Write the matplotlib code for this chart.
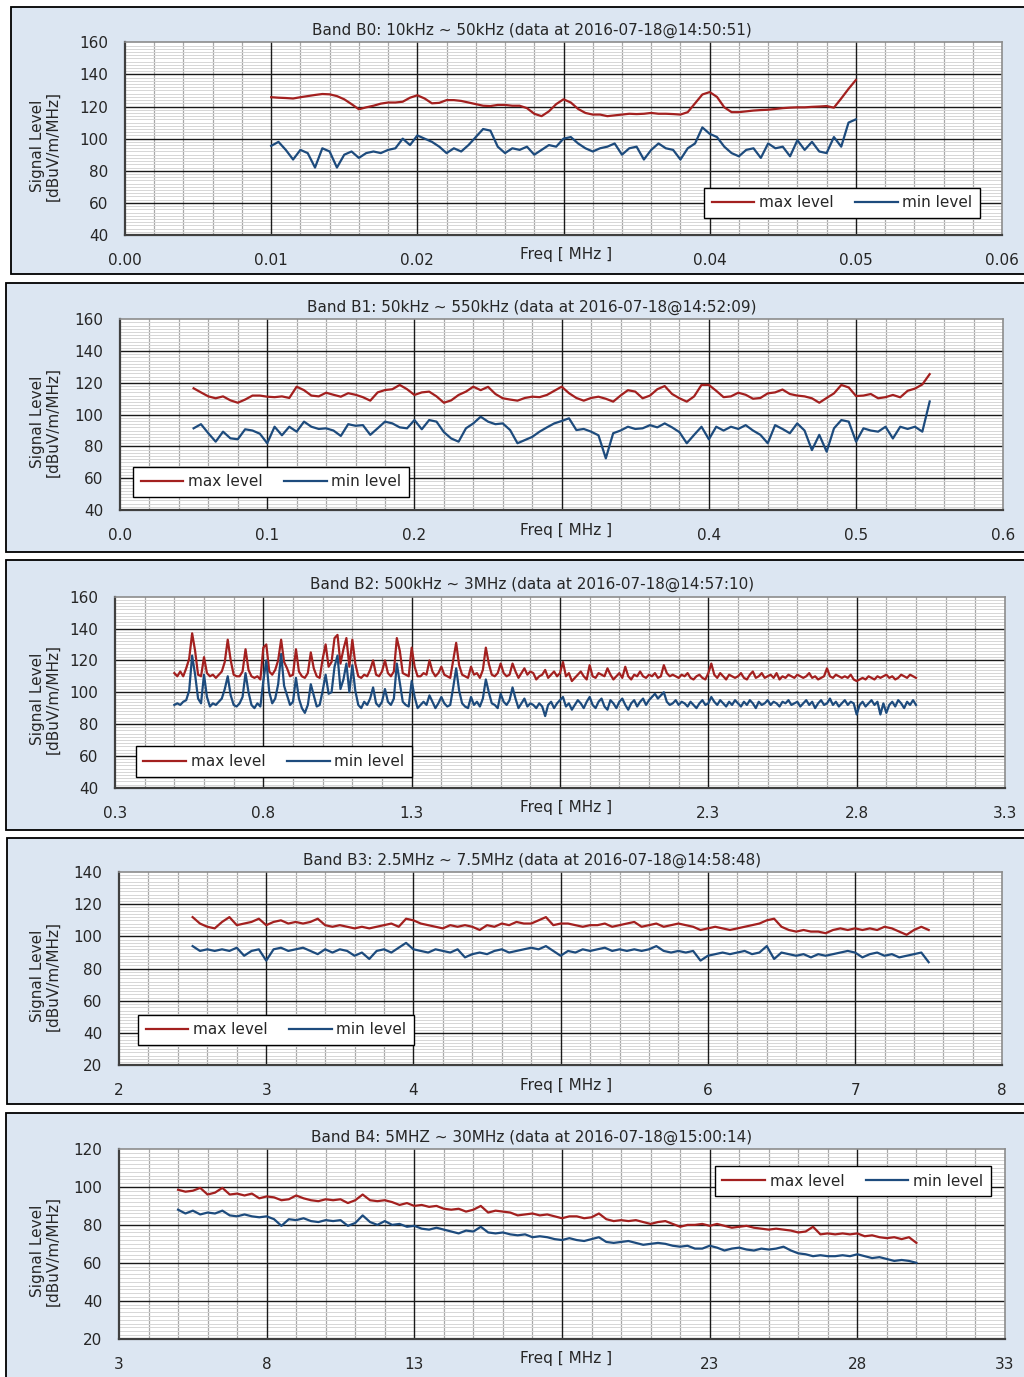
import matplotlib.pyplot as plt
import numpy as np
from matplotlib.patches import Rectangle
from matplotlib.ticker import MultipleLocator

plt.rcParams['font.family'] = ['DejaVu Sans']
plt.rcParams['font.size'] = 11

W, H = 1024, 1377
MAX_COLOR = '#A3201F'
MIN_COLOR = '#1D4B7D'
PANEL_BG = '#DCE6F2'

# ---------------- data ----------------
# Band B0 : 10kHz ~ 50kHz
b0_title = "Band B0: 10kHz ~ 50kHz (data at 2016-07-18@14:50:51)"
b0_freq = np.linspace(0.010, 0.050, 81)
b0_max = [125.8, 125.5, 125.3, 125.0, 125.8, 126.5, 127.2, 127.8, 127.6, 126.5,
          124.5, 121.5, 118.3, 119.5, 120.5, 121.8, 122.5, 122.5, 123.0, 125.5,
          127.0, 125.0, 122.0, 122.3, 124.0, 124.0, 123.5, 122.5, 121.5, 120.5,
          120.3, 121.0, 121.0, 120.5, 120.5, 119.0, 115.5, 114.0, 117.0, 121.5,
          124.5, 122.5, 118.5, 116.0, 115.0, 115.0, 114.0, 114.5, 115.0, 115.5,
          115.3, 115.5, 116.0, 115.5, 115.5, 115.3, 115.0, 116.5, 122.0, 127.5,
          129.0, 126.0, 119.5, 116.5, 116.5, 117.0, 117.5, 117.8, 118.0, 118.5,
          119.0, 119.3, 119.5, 119.5, 119.8, 120.0, 120.3, 119.3, 125.0, 131.0,
          136.5]
b0_min = [95.5, 98, 93, 87, 93, 91, 82, 94, 92, 82,
          90, 92, 88, 91, 92, 91, 93, 94, 100, 96,
          102, 100, 98, 95, 91, 94, 92, 96, 101, 106,
          105, 95, 91, 94, 93, 95, 90, 93, 96, 95,
          100, 101, 97, 94, 92, 94, 95, 97, 90, 94,
          95, 87, 93, 97, 94, 93, 87, 94, 97, 107,
          103, 101, 95, 91, 89, 93, 94, 88, 97, 94,
          95, 89, 99, 93, 98, 92, 91, 101, 95, 110,
          112]
b0_xticks = [0.00, 0.01, 0.02, 0.03, 0.04, 0.05, 0.06]
b0_xlabels = ['0.00', '0.01', '0.02', '', '0.04', '0.05', '0.06']
b0_yticks = [40, 60, 80, 100, 120, 140, 160]

# Band B1 : 50kHz ~ 550kHz
b1_title = "Band B1: 50kHz ~ 550kHz (data at 2016-07-18@14:52:09)"
b1_freq = np.linspace(0.050, 0.550, 101)
b1_max = [116.6, 114, 111.5, 110.3, 111.5, 109, 107.5, 109.5, 112, 112,
          111.3, 111, 111.5, 110.5, 117.6, 115.4, 112, 111.5, 113.8, 112.5,
          111.3, 113.5, 112.5, 111, 108.8, 114, 115.5, 116, 118.7, 116,
          112.4, 114, 114.5, 111.5, 107.5, 109, 112.4, 114.5, 117.6, 115.4,
          117.5, 113, 110.3, 109.5, 108.8, 110.5, 111.3, 111, 112.4, 115,
          117.6, 113.5, 110.5, 108.8, 110.5, 111.3, 110, 108.2, 112, 115.4,
          114.5, 110.3, 112, 116, 118, 113, 110.3, 108.2, 111.5, 118.7,
          118.7, 115, 111, 111.5, 113.8, 112.5, 110, 110.5, 113.4, 114,
          115.8, 113, 112, 111.5, 110.3, 107.5, 110.5, 113.4, 118.7, 117.1,
          111.7, 112, 113, 110.3, 111, 112.4, 110.9, 115, 116.4, 119,
          125.5]
b1_min = [91.4, 94, 88.3, 83, 89.3, 85.1, 84.5, 90.8, 90, 88,
          82, 92.4, 87, 92.4, 89.3, 95.6, 92.4, 91, 91.4, 90,
          86.6, 94, 93, 93.4, 87.3, 91.4, 95.6, 94.5, 92, 91.4,
          96.6, 90.8, 96.6, 95.6, 89, 85, 83, 91.4, 94.5, 98.7,
          95.6, 94, 94.5, 90.3, 82, 84, 86, 89.3, 92, 94.5,
          96, 97.7, 90.3, 91, 89.3, 87, 72.5, 88.3, 90, 92.4,
          91, 91.4, 93.4, 92, 94.5, 92, 89, 82, 87.3, 92.4,
          84.5, 92.4, 90, 92.4, 91, 93.4, 90, 87.3, 82, 93.4,
          91, 88.3, 94.5, 90, 77.7, 87.3, 76.7, 91.4, 96.6, 95.6,
          83, 91.4, 90, 89.3, 92.4, 85, 92.4, 91, 92.4, 89.3,
          108.3]
b1_xticks = [0.0, 0.1, 0.2, 0.3, 0.4, 0.5, 0.6]
b1_xlabels = ['0.0', '0.1', '0.2', '', '0.4', '0.5', '0.6']
b1_yticks = [40, 60, 80, 100, 120, 140, 160]

# Band B2 : 500kHz ~ 3MHz
b2_title = "Band B2: 500kHz ~ 3MHz (data at 2016-07-18@14:57:10)"
b2_freq = np.linspace(0.50, 3.00, 251)
b2_max = [112, 110, 113, 110, 115, 121, 137, 126, 111, 110,
          122, 112, 110, 111, 109, 111, 113, 119, 133, 120,
          111, 110, 110, 113, 127, 114, 110, 109, 110, 108,
          128, 130, 113, 111, 114, 120, 133, 119, 115, 110,
          111, 127, 113, 110, 109, 112, 125, 115, 110, 109,
          121, 130, 116, 119, 134, 136, 118, 127, 134, 116,
          133, 118, 110, 109, 111, 110, 114, 120, 111, 110,
          113, 120, 112, 110, 113, 134, 126, 112, 111, 110,
          128, 116, 110, 110, 112, 111, 120, 113, 110, 112,
          116, 111, 110, 109, 120, 131, 117, 111, 110, 109,
          116, 111, 112, 109, 114, 128, 118, 111, 110, 112,
          118, 112, 110, 111, 118, 113, 109, 112, 115, 111,
          113, 112, 108, 110, 111, 114, 109, 111, 113, 110,
          112, 119, 110, 112, 107, 109, 111, 113, 110, 108,
          117, 110, 109, 112, 111, 110, 115, 111, 108, 110,
          112, 109, 116, 110, 108, 111, 110, 113, 110, 109,
          111, 110, 112, 109, 110, 117, 112, 110, 111, 110,
          109, 111, 110, 112, 109, 108, 110, 111, 109, 108,
          112, 118, 111, 109, 112, 110, 108, 111, 110, 109,
          110, 112, 109, 108, 111, 113, 109, 110, 112, 109,
          110, 111, 109, 112, 108, 110, 109, 111, 110, 109,
          111, 110, 109, 110, 112, 109, 110, 108, 109, 110,
          115, 110, 109, 111, 110, 109, 110, 109, 111, 108,
          107, 108, 109, 108, 110, 109, 108, 110, 109, 110,
          111, 109, 110, 108, 109, 111, 110, 109, 111, 110,
          109]
b2_min = [92, 93, 92, 94, 95, 101, 123, 111, 96, 93,
          111, 97, 91, 93, 92, 94, 96, 102, 110, 98,
          92, 91, 93, 97, 112, 100, 92, 90, 93, 91,
          107, 120, 100, 93, 96, 105, 124, 104, 98, 92,
          94, 109, 96, 90, 87, 92, 105, 98, 91, 92,
          101, 111, 99, 100, 116, 123, 102, 108, 118, 100,
          117, 101, 92, 90, 94, 92, 96, 103, 93, 91,
          94, 102, 94, 92, 96, 118, 106, 94, 92, 91,
          107, 97, 90, 92, 94, 92, 98, 94, 90, 93,
          97, 93, 91, 92, 103, 115, 101, 93, 91, 90,
          97, 92, 94, 91, 96, 108, 100, 93, 92, 90,
          99, 94, 92, 95, 103, 96, 90, 93, 96, 91,
          93, 92, 90, 93, 91, 85, 92, 94, 90, 93,
          95, 97, 91, 93, 89, 92, 95, 93, 90, 94,
          97, 92, 90, 94, 96, 91, 89, 95, 93, 90,
          94, 96, 92, 89, 93, 95, 91, 94, 96, 92,
          95, 97, 99, 96, 98, 100, 94, 92, 93, 95,
          92, 94, 93, 91, 94, 92, 90, 93, 95, 92,
          93, 97, 94, 92, 95, 93, 91, 94, 92, 95,
          93, 91, 94, 92, 95, 93, 90, 94, 92, 93,
          95, 92, 94, 93, 91, 94, 93, 95, 92, 93,
          94, 91, 93, 95, 92, 94, 90, 93, 95, 92,
          93, 96, 92, 94, 91, 93, 95, 92, 94, 93,
          86, 92, 94, 91, 93, 95, 92, 94, 86, 93,
          87, 92, 94, 91, 95, 93, 90, 94, 92, 95,
          92]
b2_xticks = [0.3, 0.8, 1.3, 1.8, 2.3, 2.8, 3.3]
b2_xlabels = ['0.3', '0.8', '1.3', '', '2.3', '2.8', '3.3']
b2_yticks = [40, 60, 80, 100, 120, 140, 160]

# Band B3 : 2.5MHz ~ 7.5MHz
b3_title = "Band B3: 2.5MHz ~ 7.5MHz (data at 2016-07-18@14:58:48)"
b3_freq = np.linspace(2.5, 7.5, 101)
b3_max = [112, 108, 106, 105, 109, 112, 107, 108, 109, 111,
          107, 109, 110, 108, 109, 108, 109, 111, 107, 106,
          107, 106, 105, 106, 105, 106, 107, 108, 106, 111,
          110, 108, 107, 106, 105, 107, 106, 107, 106, 104,
          107, 106, 108, 107, 109, 108, 108, 110, 112, 107,
          108, 108, 107, 106, 107, 107, 108, 106, 107, 108,
          109, 106, 107, 108, 106, 107, 108, 107, 106, 104,
          105, 106, 105, 104, 105, 106, 107, 108, 110, 111,
          106, 104, 103, 104, 103, 103, 102, 104, 105, 104,
          105, 104, 105, 104, 106, 105, 103, 101, 104, 106,
          104]
b3_min = [94, 91, 92, 91, 92, 91, 93, 88, 91, 92,
          85, 92, 93, 91, 92, 93, 91, 89, 92, 90,
          92, 91, 88, 90, 86, 91, 92, 90, 93, 96,
          92, 91, 90, 92, 91, 90, 92, 87, 89, 90,
          89, 91, 92, 90, 91, 92, 93, 92, 94, 91,
          88, 91, 90, 92, 91, 92, 93, 91, 92, 91,
          92, 91, 92, 94, 91, 90, 91, 90, 91, 85,
          88, 89, 90, 89, 90, 91, 89, 90, 94, 86,
          90, 89, 88, 89, 87, 89, 88, 89, 90, 91,
          90, 87, 89, 90, 88, 89, 87, 88, 89, 90,
          84]
b3_xticks = [2, 3, 4, 5, 6, 7, 8]
b3_xlabels = ['2', '3', '4', '', '6', '7', '8']
b3_yticks = [20, 40, 60, 80, 100, 120, 140]

# Band B4 : 5MHz ~ 30MHz
b4_title = "Band B4: 5MHZ ~ 30MHz (data at 2016-07-18@15:00:14)"
b4_freq = np.linspace(5.0, 30.0, 101)
b4_max = [98.5, 97.5, 98, 99.5, 96, 97, 99.5, 96, 96.5, 95.5,
          96.5, 94, 95, 94.5, 93, 93.5, 95.5, 94, 93, 92.5,
          93.5, 93, 93.5, 91.5, 93, 96, 93, 92.5, 93, 92,
          90.5, 91.5, 90, 90.5, 89.5, 90, 88.5, 88, 88.5, 87,
          88, 90, 86.5, 87.5, 87, 86.5, 85, 85.5, 86, 85,
          85.5, 84.5, 83.5, 84.5, 84.5, 83.5, 84, 86, 83, 82,
          82.5, 82, 82.5, 81.5, 80.5, 81.5, 82, 80.5, 79, 80,
          80, 80.5, 79.5, 80.5, 79.5, 78.5, 79, 79.5, 78.5, 78,
          77.5, 78, 77.5, 77, 76, 76.5, 79, 75, 75.5, 75,
          75.5, 75, 75.5, 74, 74.5, 73.5, 73, 73.5, 72.5, 73.5,
          70.5]
b4_min = [88, 86, 87.5, 85.5, 86.5, 86, 87.5, 85, 84.5, 85.5,
          84.5, 84, 84.5, 83, 79.5, 83, 82.5, 83.5, 82, 81.5,
          82.5, 82, 82.5, 79.5, 81, 85, 81.5, 80, 82, 80,
          80.5, 79, 79.5, 78, 77.5, 78.5, 77.5, 76.5, 75.5, 77,
          76.5, 79, 76, 75.5, 76, 75, 74.5, 75, 73.5, 74,
          73.5, 72.5, 72, 73, 72, 71.5, 72.5, 73.5, 71, 70.5,
          71, 71.5, 70.5, 69.5, 70, 70.5, 70, 69, 68.5, 69,
          67.5, 67.5, 69, 68, 66.5, 67.5, 68, 67, 66.5, 67.5,
          67, 67.5, 68.5, 66.5, 65, 64.5, 63.5, 64, 63.5, 63.5,
          64, 63.5, 64.5, 63.5, 62.5, 63, 62, 61, 61.5, 61,
          60]
b4_xticks = [3, 8, 13, 18, 23, 28, 33]
b4_xlabels = ['3', '8', '13', '', '23', '28', '33']
b4_yticks = [20, 40, 60, 80, 100, 120]

# ---------------- layout (pixel boxes measured on the screenshot) ----------------
panels = [
    dict(title=b0_title, freq=b0_freq, vmax=b0_max, vmin=b0_min,
         xticks=b0_xticks, xlabels=b0_xlabels, yticks=b0_yticks, xminor=0.002,
         box=(11, 7, 1040, 274), axes=(125, 42.3, 1002, 235),
         leg=('lower right', (0.975, 0.088))),
    dict(title=b1_title, freq=b1_freq, vmax=b1_max, vmin=b1_min,
         xticks=b1_xticks, xlabels=b1_xlabels, yticks=b1_yticks, xminor=0.02,
         box=(6, 283, 1040, 552), axes=(120, 319.3, 1003.3, 510),
         leg=('lower left', (0.0147, 0.068))),
    dict(title=b2_title, freq=b2_freq, vmax=b2_max, vmin=b2_min,
         xticks=b2_xticks, xlabels=b2_xlabels, yticks=b2_yticks, xminor=0.1,
         box=(6, 560, 1040, 830), axes=(115, 596.7, 1005, 787.7),
         leg=('lower left', (0.0233, 0.058))),
    dict(title=b3_title, freq=b3_freq, vmax=b3_max, vmin=b3_min,
         xticks=b3_xticks, xlabels=b3_xlabels, yticks=b3_yticks, xminor=0.2,
         box=(7, 838, 1040, 1104), axes=(119, 872, 1002.3, 1065.3),
         leg=('lower left', (0.0215, 0.105))),
    dict(title=b4_title, freq=b4_freq, vmax=b4_max, vmin=b4_min,
         xticks=b4_xticks, xlabels=b4_xlabels, yticks=b4_yticks, xminor=1,
         box=(6, 1113, 1040, 1390), axes=(119, 1149, 1005, 1338.7),
         leg=('upper right', (0.984, 0.910))),
]

fig = plt.figure(figsize=(W / 100, H / 100), dpi=100)

for p in panels:
    # light blue chart-area box
    x0, y0, x1, y1 = p['box']
    fig.add_artist(Rectangle((x0 / W, 1 - y1 / H), (x1 - x0) / W, (y1 - y0) / H,
                             transform=fig.transFigure, facecolor=PANEL_BG,
                             edgecolor='black', linewidth=1.3, zorder=-1))

    l, t, r, b = p['axes']
    ax = fig.add_axes([l / W, 1 - b / H, (r - l) / W, (b - t) / H])
    ax.set_facecolor('white')

    ax.plot(p['freq'], p['vmax'], color=MAX_COLOR, lw=1.6, label='max level', zorder=3)
    ax.plot(p['freq'], p['vmin'], color=MIN_COLOR, lw=1.6, label='min level', zorder=3)

    ax.set_xlim(p['xticks'][0], p['xticks'][-1])
    ax.set_ylim(p['yticks'][0], p['yticks'][-1])
    ax.set_xticks(p['xticks'])
    ax.set_xticklabels(p['xlabels'])
    ax.set_yticks(p['yticks'])
    ax.xaxis.set_minor_locator(MultipleLocator(p['xminor']))
    ax.yaxis.set_minor_locator(MultipleLocator(2))
    ax.tick_params(which='both', length=0, labelsize=11, colors='#262626')
    ax.tick_params(axis='x', pad=13)
    ax.tick_params(axis='y', pad=12)

    # minor grid from the axis, major grid drawn on top so it stays solid
    ax.set_axisbelow(True)
    ax.grid(which='minor', axis='y', color='#D6D6D6', lw=0.7)
    ax.grid(which='minor', axis='x', color='#A8A8A8', lw=0.9)
    for v in p['yticks'][1:-1]:
        ax.axhline(v, color='#1A1A1A', lw=1.0, zorder=1)
    for v in p['xticks'][1:-1]:
        ax.axvline(v, color='#1A1A1A', lw=1.0, zorder=1)

    for side in ('left', 'bottom'):
        ax.spines[side].set_color('#404040')
        ax.spines[side].set_linewidth(1.6)
    for side in ('top', 'right'):
        ax.spines[side].set_color('#8C8C8C')
        ax.spines[side].set_linewidth(1.2)

    loc, anchor = p['leg']
    leg = ax.legend(loc=loc, bbox_to_anchor=anchor, borderaxespad=0, ncol=2,
                    fontsize=11, frameon=True, fancybox=False, framealpha=1,
                    edgecolor='black', handlelength=2.8, handletextpad=0.3,
                    columnspacing=1.4, borderpad=0.5)
    leg.get_frame().set_linewidth(1.0)
    leg.set_zorder(5)
    for txt in leg.get_texts():
        txt.set_color('#262626')

    # chart title, y title and x title placed like the Excel chart
    fig.text(532 / W, 1 - (t - 12) / H, p['title'], ha='center', va='center',
             fontsize=11, color='#262626')
    fig.text(45 / W, 1 - ((t + b) / 2 + 7) / H, 'Signal Level\n[dBuV/m/MHz]',
             rotation=90, ha='center', va='center', fontsize=11,
             linespacing=1.05, color='#262626')
    fig.text(566 / W, 1 - (b + 20) / H, 'Freq [ MHz ]', ha='center', va='center',
             fontsize=11, color='#262626')

fig.savefig('out.png', dpi=100)
